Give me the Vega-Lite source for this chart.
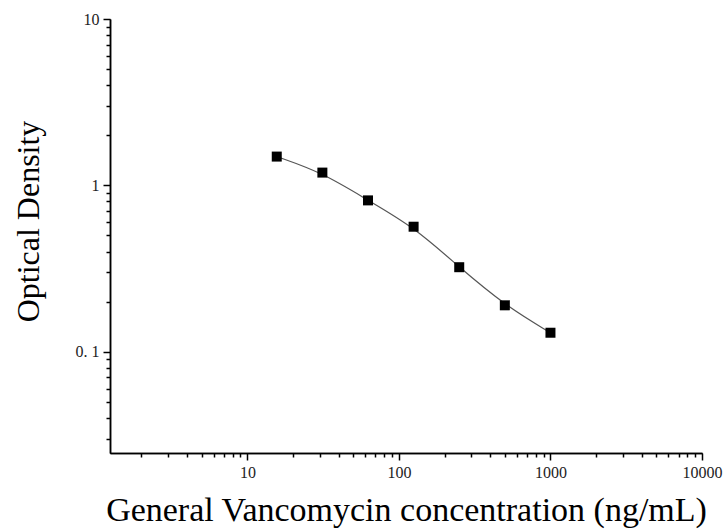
{
  "$schema": "https://vega.github.io/schema/vega-lite/v6.json",
  "width": 592,
  "height": 434,
  "autosize": {"type": "none"},
  "padding": {"left": 110, "top": 19, "right": 26, "bottom": 78},
  "background": "white",
  "config": {
    "view": {"stroke": null},
    "font": "Liberation Serif",
    "axis": {"ticks": true, "tickOpacity": 1, "tickColor": "black", "tickDash": [], "tickOffset": 0, "tickRound": true}
  },
  "data": {
    "values": [
      {"conc": 15.625, "od": 1.489},
      {"conc": 31.25, "od": 1.193},
      {"conc": 62.5, "od": 0.812},
      {"conc": 125, "od": 0.564},
      {"conc": 250, "od": 0.322},
      {"conc": 500, "od": 0.190},
      {"conc": 1000, "od": 0.130}
    ]
  },
  "resolve": {"axis": {"x": "independent", "y": "independent"}},
  "layer": [
    {
      "mark": {"type": "line", "interpolate": "basis", "color": "#555", "strokeWidth": 1.2},
      "encoding": {
        "x": {
          "field": "conc",
          "type": "quantitative",
          "scale": {"type": "log", "domain": [1.24, 10000], "nice": false},
          "axis": {
            "orient": "bottom",
            "title": null,
            "labels": false,
            "grid": false,
            "domain": true,
            "domainColor": "black",
            "domainWidth": 1.5,
            "ticks": true,
            "tickColor": "black",
            "tickOpacity": 1,
            "tickWidth": 1.5,
            "tickSize": 4,
            "zindex": 2,
            "values": [2,3,4,5,6,7,8,9,20,30,40,50,60,70,80,90,200,300,400,500,600,700,800,900,2000,3000,4000,5000,6000,7000,8000,9000]
          }
        },
        "y": {
          "field": "od",
          "type": "quantitative",
          "scale": {"type": "log", "domain": [0.0246, 10], "nice": false},
          "axis": {
            "orient": "left",
            "title": null,
            "labels": false,
            "grid": false,
            "domain": true,
            "domainColor": "black",
            "domainWidth": 1.5,
            "ticks": true,
            "tickColor": "black",
            "tickOpacity": 1,
            "tickWidth": 1.5,
            "tickSize": 4,
            "zindex": 2,
            "values": [0.03,0.04,0.05,0.06,0.07,0.08,0.09,0.2,0.3,0.4,0.5,0.6,0.7,0.8,0.9,2,3,4,5,6,7,8,9]
          }
        }
      }
    },
    {
      "mark": {"type": "point", "shape": "square", "filled": true, "color": "black", "opacity": 1, "size": 100},
      "encoding": {
        "x": {
          "field": "conc",
          "type": "quantitative",
          "scale": {"type": "log", "domain": [1.24, 10000], "nice": false},
          "axis": {
            "orient": "bottom",
            "title": "General Vancomycin concentration (ng/mL)",
            "titleFont": "Liberation Serif",
            "titleFontWeight": "normal",
            "titleColor": "black",
            "titleFontSize": 34,
            "titlePadding": 13,
            "grid": false,
            "domain": true,
            "domainColor": "black",
            "domainWidth": 1.5,
            "ticks": true,
            "tickColor": "black",
            "tickOpacity": 1,
            "tickWidth": 1.5,
            "tickSize": 7,
            "zindex": 2,
            "values": [10, 100, 1000, 10000],
            "format": "d",
            "labelFont": "Liberation Serif",
            "labelFontSize": 16,
            "labelColor": "#222",
            "labelFlush": false,
            "labelOverlap": false,
            "labelPadding": 4
          }
        },
        "y": {
          "field": "od",
          "type": "quantitative",
          "scale": {"type": "log", "domain": [0.0246, 10], "nice": false},
          "axis": {
            "orient": "left",
            "title": "Optical Density",
            "titleFont": "Liberation Serif",
            "titleFontWeight": "normal",
            "titleColor": "black",
            "titleFontSize": 32,
            "titlePadding": 30,
            "titleY": 202,
            "grid": false,
            "domain": true,
            "domainColor": "black",
            "domainWidth": 1.5,
            "ticks": true,
            "tickColor": "black",
            "tickOpacity": 1,
            "tickWidth": 1.5,
            "tickSize": 7,
            "zindex": 2,
            "values": [0.1, 1, 10],
            "labelExpr": "datum.value == 0.1 ? '0. 1' : datum.value == 1 ? '1' : '10'",
            "labelFont": "Liberation Serif",
            "labelFontSize": 16,
            "labelColor": "#222",
            "labelFlush": false,
            "labelOverlap": false,
            "labelPadding": 4
          }
        }
      }
    }
  ]
}
